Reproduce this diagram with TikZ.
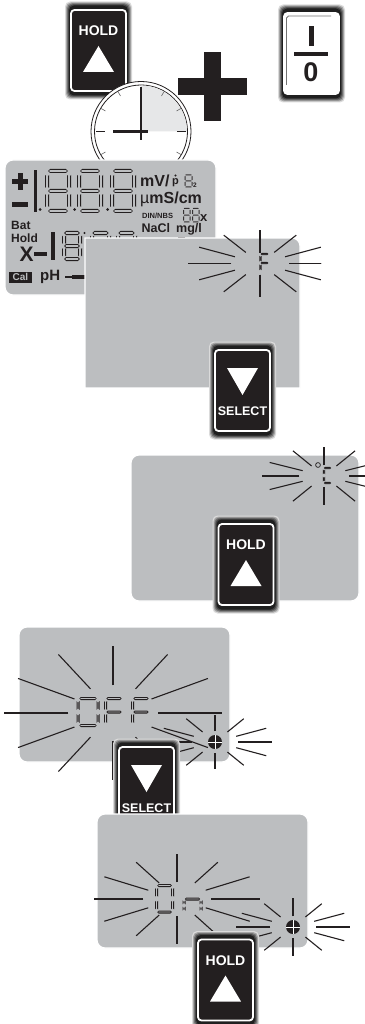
\documentclass[tikz,border=0pt]{standalone}
\usepackage{fontspec}
\setmainfont{Liberation Sans}
\usetikzlibrary{calc}
\definecolor{lcdgray}{HTML}{BCBEC0}
\definecolor{inkdark}{HTML}{231F20}
\definecolor{sectorgray}{HTML}{E6E7E8}
\newcommand{\fsz}[1]{\fontsize{#1}{#1}\selectfont\bfseries}
\newcommand{\segpiece}[6]{\foreach \segw/\segc in {\sego/inkdark,\segi/lcdgray} {
\fill[\segc] ($(#1,#2)+(-#5*\segw pt,-#6*\segw pt)$) -- ($(#1,#2)+(#6*\segw pt,#5*\segw pt)$) -- ($(#3,#4)+(#6*\segw pt,#5*\segw pt)$) -- ($(#3,#4)+(#5*\segw pt,#6*\segw pt)$) -- ($(#3,#4)+(-#6*\segw pt,-#5*\segw pt)$) -- ($(#1,#2)+(-#6*\segw pt,-#5*\segw pt)$) -- cycle;}}
\def\sga{\segpiece{.14}{0}{.86}{0}{1}{0}}
\def\sgb{\segpiece{1}{.1}{1}{.42}{0}{1}}
\def\sgc{\segpiece{1}{.58}{1}{.9}{0}{1}}
\def\sgd{\segpiece{.14}{1}{.86}{1}{1}{0}}
\def\sge{\segpiece{0}{.58}{0}{.9}{0}{1}}
\def\sgf{\segpiece{0}{.1}{0}{.42}{0}{1}}
\def\sgg{\segpiece{.14}{.5}{.86}{.5}{1}{0}}
\newcommand{\segdigit}[6][1.5]{\begin{scope}[shift={(#2,#3)},x=#4pt,y=-#5pt]
\def\sego{#1}\pgfmathsetmacro\segi{max(#1-1.15,0)}
\foreach \s in {#6} {\csname sg\s\endcsname}
\end{scope}}
\newcommand{\burst}[2]{\foreach \ang/\ra/\rb in {#2} {
\foreach \rot in {\ang,180-\ang,-\ang,180+\ang} {\draw[ray] ($(#1)+(\rot:\ra)$) -- ($(#1)+(\rot:\rb)$);}}}
\newcommand{\keyback}[1]{\foreach \gw/\gh/\gc in {33.5/49/14,32.5/48/35,31.5/47/55,30.5/46/72,29.5/45/88} {
\fill[black!\gc,rounded corners=5pt] ($(#1)+(-\gw,-\gh)$) rectangle ($(#1)+(\gw,\gh)$);}}
\newcommand{\holdkey}[2]{\keyback{#2}
\node[keyface] (#1) at (#2) {};
\node[keytext] (#1txt) at ($(#1)+(0,-19.5)$) {HOLD};
\fill[white] ($(#1)+(0,-4.5)$) -- ($(#1)+(15.5,21.5)$) -- ($(#1)+(-15.5,21.5)$) -- cycle;}
\newcommand{\selectkey}[2]{\keyback{#2}
\node[keyface] (#1) at (#2) {};
\fill[white] ($(#1)+(-15.5,-22.5)$) -- ($(#1)+(15.5,-22.5)$) -- ($(#1)+(0,4.5)$) -- cycle;
\node[keytext,font=\fsz{12.5}] (#1txt) at ($(#1)+(0,20.5)$) {SELECT};}
\begin{document}
\begin{tikzpicture}[x=1pt,y=-1pt,
 ray/.style={draw=inkdark,line width=1.1pt},
 panel/.style={fill=lcdgray,draw=white,line width=1.2pt,rounded corners=8pt},
 keyface/.style={draw=white,fill=inkdark,line width=1.8pt,rounded corners=3.5pt,minimum width=55pt,minimum height=81pt,inner sep=0pt},
 keytext/.style={text=white,font=\fsz{14},inner sep=0pt},
 lcdtext/.style={text=inkdark,anchor=west,inner sep=0pt,font=\fsz{#1}}]
\useasboundingbox (0,0) rectangle (364,1024);
\holdkey{holda}{98.5,50.5}
\fill[inkdark] (204,52) rectangle (221,121);
\fill[inkdark] (178,78) rectangle (247,95);
\keyback{311.5,53.5}
\node[keyface,fill=white] (power) at (311.5,53.5) {};
\draw[black!55,line width=.8pt] (286.5,85) -- (286.5,18) -- ++(2,-2) -- (331,16);
\fill[inkdark] (309,26) rectangle (313.5,46);
\fill[inkdark] (294,52) rectangle (328,56);
\node[text=inkdark,font=\fsz{27},inner sep=0pt] (powerzero) at (311,72) {0};
\coordinate (clockc) at (141,131.5);
\draw[inkdark,fill=white,line width=.8pt] (clockc) circle (50);
\draw[inkdark,line width=.8pt] (clockc) circle (46.5);
\fill[sectorgray] (clockc) -- ($(clockc)+(46,0)$) arc[start angle=0,end angle=-90,radius=46] -- cycle;
\foreach \ang in {30,60,120,150,210,240,300,330} {\draw[black!60,line width=.6pt] ($(clockc)+(\ang:41)$) -- ($(clockc)+(\ang:46)$);}
\draw[inkdark,line width=1.4pt] (141,87) -- (141,140);
\draw[inkdark,line width=2.2pt] (113,131.5) -- (148,131.5);
\draw[inkdark,line width=1.4pt] (96,131.5) -- (105,131.5);
\draw[inkdark,line width=1.4pt] (177,131.5) -- (186,131.5);
\draw[panel] (5,160) rectangle (216,295);
\fill[inkdark] (17.5,173) rectangle (22.5,190);
\fill[inkdark] (12,179) rectangle (28,184);
\fill[inkdark] (12,202) rectangle (28,207);
\fill[inkdark] (33.5,170) rectangle (36.5,212);
\foreach \dotx in {40,74.5,107.5} {\fill[inkdark] (\dotx,209.5) circle (1.5);}
\foreach \digx in {47,79,112} {\segdigit[2]{\digx}{171}{22}{40}{a,b,c,d,e,f,g}}
\node[lcdtext=16] (lcdmv) at (140,181) {mV/};
\node[lcdtext=11] (lcdp) at (172,183) {p};
\fill[inkdark] (175.5,175.5) circle (1.2);
\segdigit[.5]{185}{175}{7}{12}{a,b,c,d,e,f,g}
\node[lcdtext=6.5] (lcdtwo) at (193,185) {2};
\node[lcdtext=16] (lcdms) at (140,199) {{\mdseries µ}mS/cm};
\node[lcdtext=7.5] (lcddin) at (142,216) {DIN/NBS};
\segdigit[.5]{183.5}{208.5}{6.5}{13.5}{a,b,c,d,e,f,g}
\segdigit[.5]{192.5}{208.5}{6.5}{13.5}{a,b,c,d,e,f,g}
\node[lcdtext=13] (lcdx) at (200,218) {x};
\node[lcdtext=12.5] (lcdnacl) at (141.5,229) {NaCl\hspace{6pt}mg/l};
\node[lcdtext=12] (lcdbat) at (11,225) {Bat};
\node[lcdtext=12] (lcdhold) at (11,238.5) {Hold};
\node[lcdtext=21] (lcdbigx) at (19.5,254) {X};
\fill[inkdark] (34,252) rectangle (47,256);
\fill[inkdark] (50.5,232) rectangle (55,260);
\segdigit[2]{64}{233}{16}{26}{a,b,c,d,e,f,g}
\fill[inkdark] (84.5,233) circle (1.2);
\segdigit[2]{92}{233}{17}{26}{a,b,c,d,e,f,g}
\segdigit[2]{118}{233}{17}{26}{a,b,c,d,e,f,g}
\fill[inkdark] (178,236.5) rectangle (185,238);
\node[fill=inkdark,text=lcdgray,font=\fsz{10},inner sep=0pt,minimum width=23pt,minimum height=11pt] (lcdcal) at (20.5,277) {Cal};
\node[lcdtext=15] (lcdph) at (40,277) {pH};
\fill[inkdark] (65,276) rectangle (85,278);
\fill[inkdark] (72,275) rectangle (85,279);
\draw[fill=lcdgray,draw=white,line width=1.2pt] (85,388) -- (85,238) -- (292,238) to[out=0,in=90] (300,246) -- (300,388) -- cycle;
\fill[white] (85,387.6) rectangle (300,389);
\coordinate (burstf) at (260,263.5);
\begin{scope}
\clip (0,0) rectangle (321,400);
\burst{burstf}{90/11/33,38/18/46,15/26/63,0/29/72}
\end{scope}
\segdigit[1.1]{260.5}{254}{8}{18}{a,f,e,g}
\selectkey{selecta}{242.5,390.5}
\draw[panel] (131,455) rectangle (359,601);
\coordinate (burstc) at (324,476);
\burst{burstc}{90/11/29,39/16/40,14/22/56,0/25/62}
\draw[inkdark,line width=.7pt] (318,465) circle (2.4);
\segdigit[1.1]{324}{468}{7}{15}{a,f,e,d}
\holdkey{holdb}{246,564.5}
\draw[panel] (19,627) rectangle (230,762);
\coordinate (burstoff) at (113,713);
\burst{burstoff}{90/28/67,47/33/80,20/41/101,0/45/109}
\segdigit{78}{698.5}{20}{27}{a,b,c,d,e,f}
\segdigit{105.5}{698.5}{17}{27}{a,f,e,g}
\segdigit{132.5}{698.5}{17}{27}{a,f,e,g}
\coordinate (spotoff) at (215,742);
\burst{spotoff}{90/11/27,39/16/37,15/22/53,0/23/57}
\fill[inkdark] (spotoff) circle (7);
\draw[white,line width=.7pt] (208,742) -- (222,742);
\draw[white,line width=.7pt] (215,735) -- (215,749);
\selectkey{selectb}{146.5,787.5}
\draw[panel] (97,814) rectangle (308,948);
\coordinate (burston) at (177,899);
\burst{burston}{90/17/45,42/24/55,17/30/76,0/34/83}
\segdigit{156.5}{885.5}{16}{26.5}{a,b,c,d,e,f}
\segdigit{184}{899}{17}{13}{a,b,c,e,f}
\coordinate (spoton) at (293,927);
\burst{spoton}{90/11/29,39/16/37,15/22/53,0/23/57}
\fill[inkdark] (spoton) circle (7);
\draw[white,line width=.7pt] (286,927) -- (300,927);
\draw[white,line width=.7pt] (293,920) -- (293,934);
\holdkey{holdc}{225.5,980}
\end{tikzpicture}
\end{document}
